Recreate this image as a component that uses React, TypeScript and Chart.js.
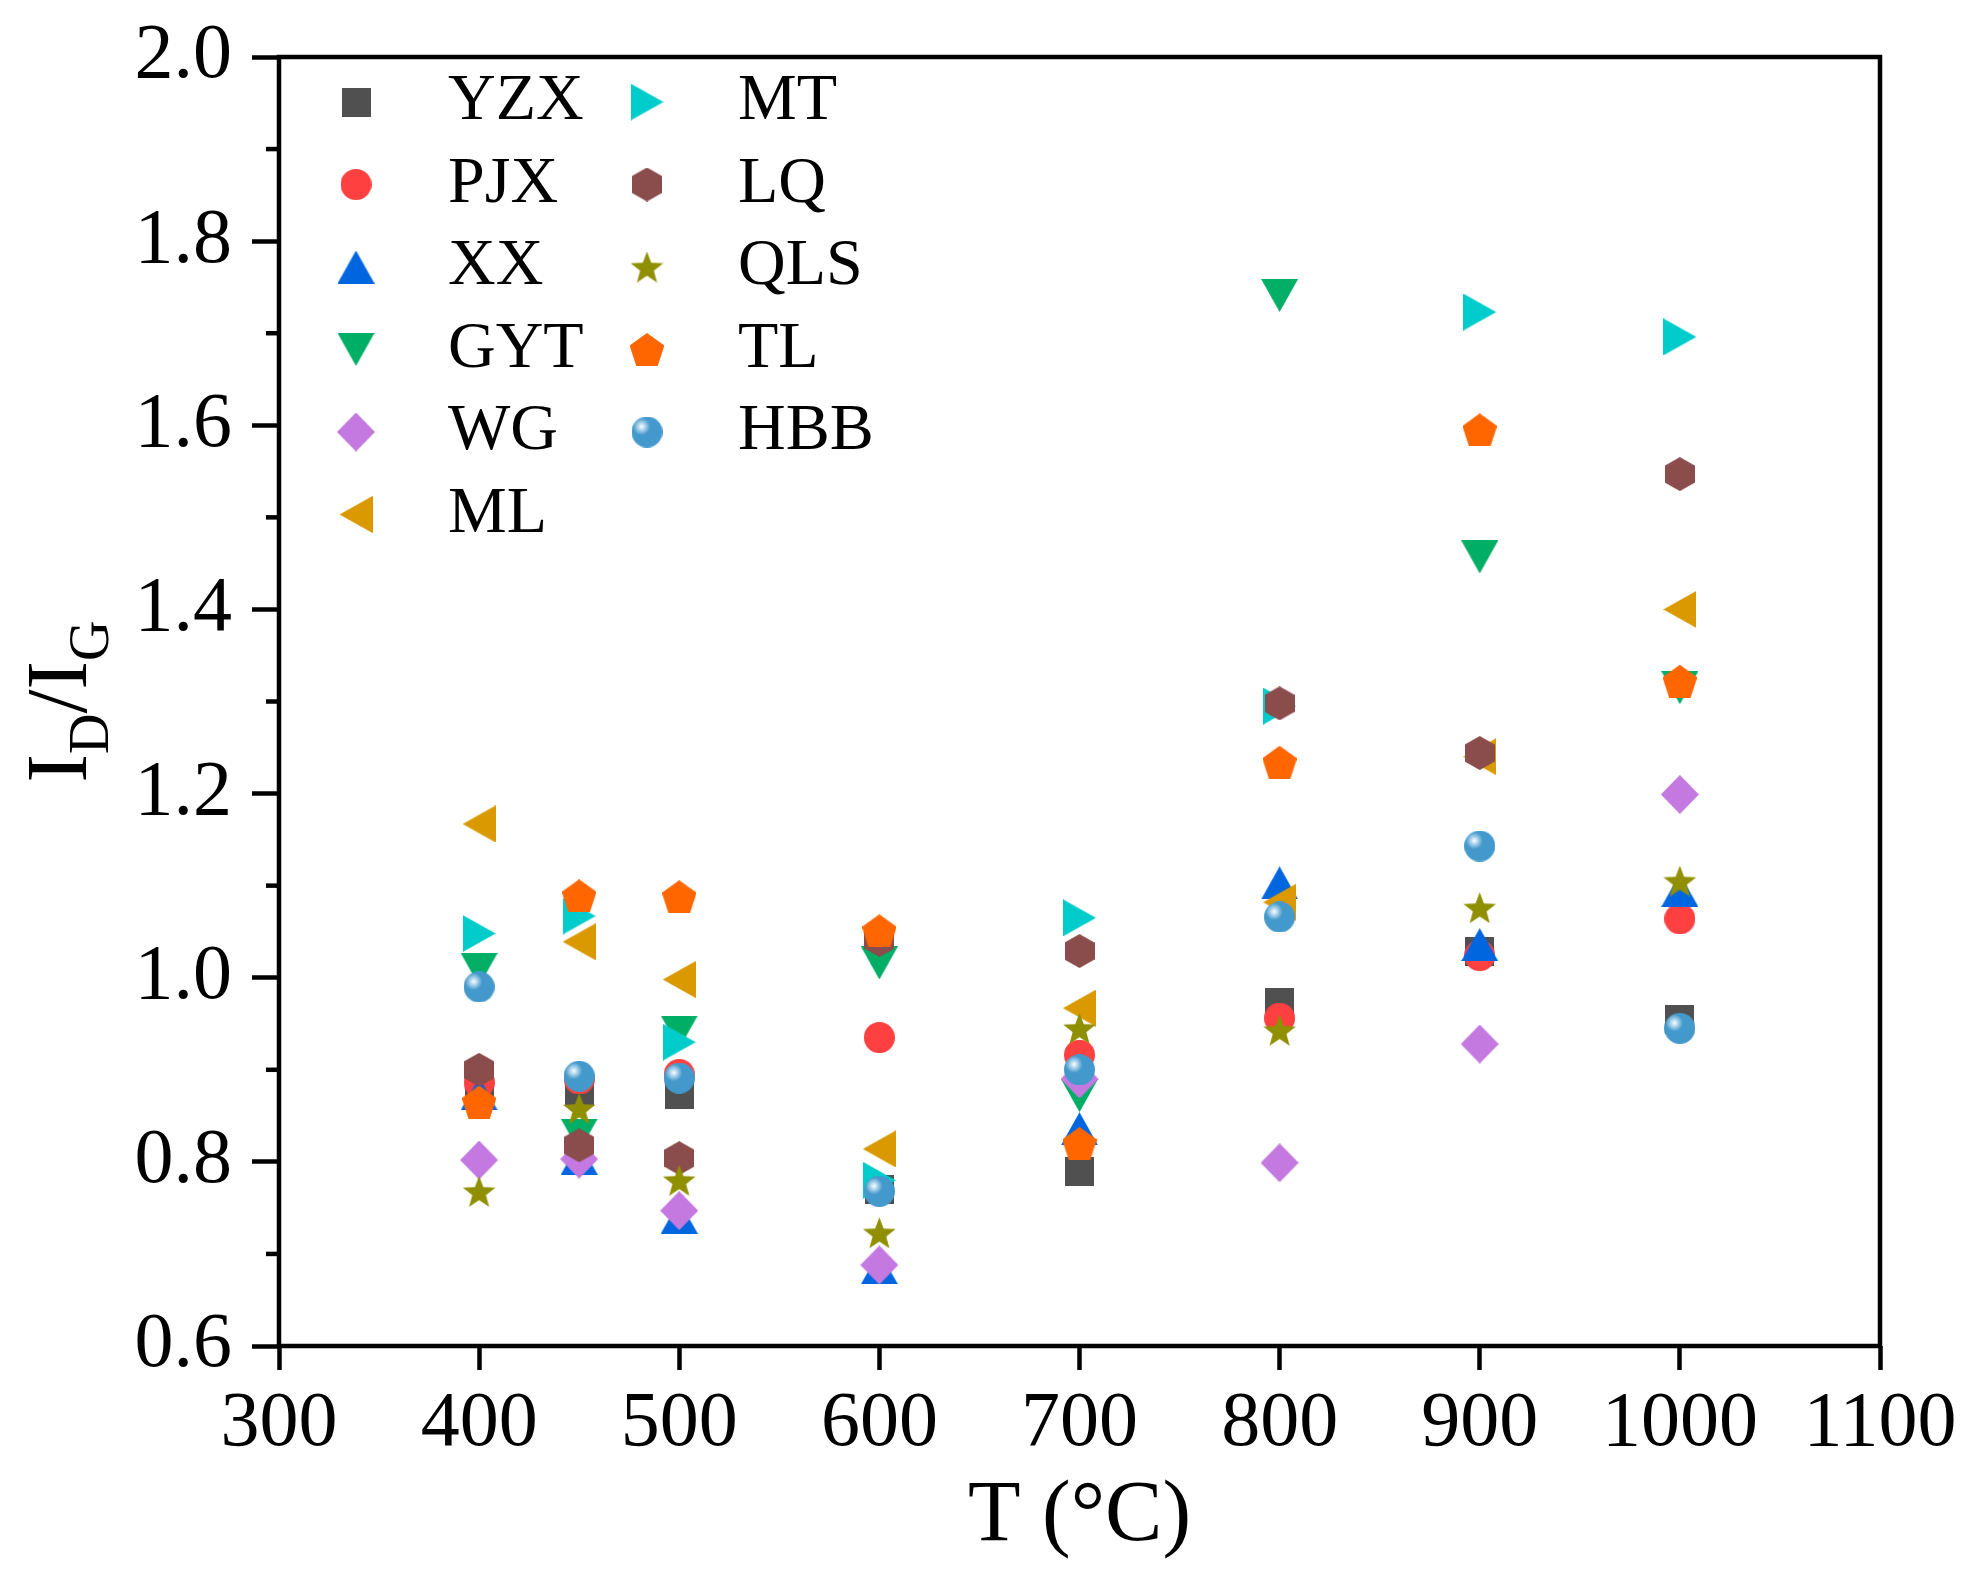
import React, { useEffect, useRef } from 'react';
import { Chart, registerables } from 'chart.js';

Chart.register(...registerables);

// temperatures (°C)
const temps = [400, 450, 500, 600, 700, 800, 900, 1000];

// ID/IG ratios per sample
const yzx = [0.88, 0.878, 0.873, 0.77, 0.789, 0.973, 1.028, 0.955];
const pjx = [0.886, 0.89, 0.895, 0.935, 0.916, 0.956, 1.024, 1.064];
const xx = [0.874, 0.804, 0.74, 0.685, 0.836, 1.103, 1.036, 1.095];
const gyt = [1.009, 0.829, 0.941, 1.016, 0.872, 1.741, 1.457, 1.315];
const wg = [0.802, 0.803, 0.747, 0.688, 0.89, 0.799, 0.928, 1.199];
const ml = [1.167, 1.039, 0.998, 0.814, 0.967, 1.082, 1.24, 1.4];
const mt = [1.048, 1.067, 0.93, 0.78, 1.065, 1.295, 1.723, 1.696];
const lq = [0.9, 0.818, 0.804, 1.041, 1.029, 1.298, 1.244, 1.547];
const qls = [0.768, 0.858, 0.78, 0.723, 0.945, 0.943, 1.076, 1.105];
const tl = [0.865, 1.089, 1.088, 1.051, 0.82, 1.234, 1.595, 1.322];
const hbb = [0.99, 0.893, 0.891, 0.768, 0.9, 1.066, 1.143, 0.945];

const seriesNames = ['YZX', 'PJX', 'XX', 'GYT', 'WG', 'ML', 'MT', 'LQ', 'QLS', 'TL', 'HBB'];
const seriesValues = [yzx, pjx, xx, gyt, wg, ml, mt, lq, qls, tl, hbb];
const seriesColors = ['#505050', '#ff4040', '#0066e0', '#00ae66', '#c479e0', '#db9900', '#00cccc', '#8b4c4c', '#8f8f00', '#ff6600', '#4499cc'];
const seriesShapes = ['square', 'circle', 'up', 'down', 'diamond', 'left', 'right', 'hexagon', 'star', 'pentagon', 'sphere'];

const yMinorTicks = [0.7, 0.9, 1.1, 1.3, 1.5, 1.7, 1.9];

const FONT = '"Liberation Serif", "Times New Roman", serif';

const markerSizes: Record<string, [number, number]> = {
  square: [29, 29],
  circle: [31, 31],
  up: [37, 33],
  down: [37, 33],
  diamond: [38, 39],
  left: [33, 37],
  right: [33, 37],
  hexagon: [30, 34],
  star: [33, 31],
  pentagon: [34, 33],
  sphere: [31, 31],
};

// offscreen canvas used as pointStyle
function makeMarker(shape: string, color: string): HTMLCanvasElement {
  const [w, h] = markerSizes[shape];
  const c = document.createElement('canvas');
  c.width = w;
  c.height = h;
  const g = c.getContext('2d')!;
  g.fillStyle = color;
  g.beginPath();
  switch (shape) {
    case 'square':
      g.rect(0, 0, w, h);
      break;
    case 'circle':
      g.arc(w / 2, h / 2, w / 2, 0, Math.PI * 2);
      break;
    case 'up':
      g.moveTo(w / 2, 0); g.lineTo(w, h); g.lineTo(0, h);
      break;
    case 'down':
      g.moveTo(0, 0); g.lineTo(w, 0); g.lineTo(w / 2, h);
      break;
    case 'left':
      g.moveTo(0, h / 2); g.lineTo(w, 0); g.lineTo(w, h);
      break;
    case 'right':
      g.moveTo(0, 0); g.lineTo(w, h / 2); g.lineTo(0, h);
      break;
    case 'diamond':
      g.moveTo(w / 2, 0); g.lineTo(w, h / 2); g.lineTo(w / 2, h); g.lineTo(0, h / 2);
      break;
    case 'hexagon':
      g.moveTo(w / 2, 0); g.lineTo(w, h / 4); g.lineTo(w, (3 * h) / 4);
      g.lineTo(w / 2, h); g.lineTo(0, (3 * h) / 4); g.lineTo(0, h / 4);
      break;
    case 'star': {
      const R = h / 1.809;
      const r = R * 0.42;
      for (let i = 0; i < 10; i++) {
        const a = -Math.PI / 2 + (i * Math.PI) / 5;
        const rr = i % 2 === 0 ? R : r;
        const px = w / 2 + Math.cos(a) * rr;
        const py = R + Math.sin(a) * rr;
        if (i === 0) g.moveTo(px, py); else g.lineTo(px, py);
      }
      break;
    }
    case 'pentagon': {
      const R = h / 1.809;
      for (let i = 0; i < 5; i++) {
        const a = -Math.PI / 2 + (i * 2 * Math.PI) / 5;
        const px = w / 2 + Math.cos(a) * R;
        const py = R + Math.sin(a) * R;
        if (i === 0) g.moveTo(px, py); else g.lineTo(px, py);
      }
      break;
    }
    case 'sphere': {
      const r = w / 2;
      const grad = g.createRadialGradient(r * 0.65, r * 0.65, 0, r * 0.65, r * 0.65, r * 0.55);
      grad.addColorStop(0, '#ffffff');
      grad.addColorStop(0.35, '#bcdcf0');
      grad.addColorStop(1, color);
      g.fillStyle = grad;
      g.arc(r, r, r, 0, Math.PI * 2);
      break;
    }
  }
  g.closePath();
  g.fill();
  return c;
}

const decorPlugin = {
  id: 'decor',
  afterDraw(chart: any) {
    const { ctx, chartArea: a, scales } = chart;
    ctx.save();

    // frame
    ctx.strokeStyle = '#000';
    ctx.lineWidth = 4.5;
    ctx.strokeRect(a.left, a.top, a.right - a.left, a.bottom - a.top);

    // minor ticks on y
    for (const v of yMinorTicks) {
      const p = scales.y.getPixelForValue(v);
      ctx.beginPath();
      ctx.moveTo(a.left - 13, p);
      ctx.lineTo(a.left, p);
      ctx.stroke();
    }

    // legend, two columns
    ctx.font = `66px ${FONT}`;
    ctx.fillStyle = '#000';
    ctx.textAlign = 'left';
    ctx.textBaseline = 'middle';
    chart.data.datasets.forEach((ds: any, i: number) => {
      const col = i < 6 ? 0 : 1;
      const row = i < 6 ? i : i - 6;
      const sx = col === 0 ? 356 : 647;
      const tx = col === 0 ? 448 : 738;
      const cy = 102 + row * 82.5;
      const img = ds.pointStyle as HTMLCanvasElement;
      ctx.drawImage(img, sx - img.width / 2, cy - img.height / 2);
      ctx.fillText(ds.label, tx, cy);
    });

    // x title
    ctx.textAlign = 'center';
    ctx.textBaseline = 'alphabetic';
    ctx.font = `86px ${FONT}`;
    ctx.fillText('T (°C)', (a.left + a.right) / 2, a.bottom + 194);

    // y title with subscripts
    const parts: [string, boolean][] = [['I', false], ['D', true], ['/', false], ['I', false], ['G', true]];
    const big = `86px ${FONT}`;
    const small = `56px ${FONT}`;
    let total = 0;
    const widths = parts.map(([t, sub]) => {
      ctx.font = sub ? small : big;
      const wdt = ctx.measureText(t).width;
      total += wdt;
      return wdt;
    });
    ctx.translate(86, (a.top + a.bottom) / 2);
    ctx.rotate(-Math.PI / 2);
    ctx.textAlign = 'left';
    let x = -total / 2;
    parts.forEach(([t, sub], i) => {
      ctx.font = sub ? small : big;
      ctx.fillText(t, x, sub ? 22 : 0);
      x += widths[i];
    });

    ctx.restore();
  },
};

const App: React.FC = () => {
  const chartRef = useRef<HTMLCanvasElement>(null);

  useEffect(() => {
    if (!chartRef.current) return;
    const context = chartRef.current.getContext('2d');
    if (!context) return;

    const datasets = seriesNames.map((name, i) => ({
      label: name,
      data: temps.map((t, j) => ({ x: t, y: seriesValues[i][j] })),
      pointStyle: makeMarker(seriesShapes[i], seriesColors[i]),
      pointRadius: 15,
      backgroundColor: seriesColors[i],
      borderColor: seriesColors[i],
      order: seriesNames.length - i, // later series drawn on top
    }));

    const tickFont = { family: FONT, size: 78 };

    const chart = new Chart(context, {
      type: 'scatter',
      data: { datasets },
      options: {
        animation: false,
        responsive: false,
        layout: { padding: { top: 57, right: 91, left: 0, bottom: 0 } },
        plugins: {
          legend: { display: false },
          tooltip: { enabled: false },
        },
        scales: {
          x: {
            type: 'linear',
            min: 300,
            max: 1100,
            ticks: {
              stepSize: 100,
              font: tickFont,
              color: '#000',
              padding: 8,
              maxRotation: 0,
              autoSkip: false,
              callback: (v: any) => String(v),
            },
            grid: { display: true, drawOnChartArea: false, drawTicks: true, tickLength: 24, tickWidth: 4.5, tickColor: '#000' },
            border: { display: false },
            afterFit: (s: any) => {
              s.height = 231;
              s.paddingLeft = 0;
              s.paddingRight = 0;
            },
          },
          y: {
            type: 'linear',
            min: 0.6,
            max: 2.0,
            ticks: {
              stepSize: 0.2,
              font: tickFont,
              color: '#000',
              padding: 20,
              callback: (v: any) => Number(v).toFixed(1),
            },
            grid: { display: true, drawOnChartArea: false, drawTicks: true, tickLength: 27, tickWidth: 4.5, tickColor: '#000' },
            border: { display: false },
            afterFit: (s: any) => {
              s.width = 279;
              s.paddingTop = 0;
              s.paddingBottom = 0;
            },
          },
        },
      },
      plugins: [decorPlugin],
    });

    return () => {
      chart.destroy();
    };
  }, []);

  return (
    <div style={{ position: 'absolute', left: 0, top: 0, width: 1971, height: 1577, background: '#fff' }}>
      <canvas ref={chartRef} width={1971} height={1577} style={{ display: 'block' }} />
    </div>
  );
};

export default App;
